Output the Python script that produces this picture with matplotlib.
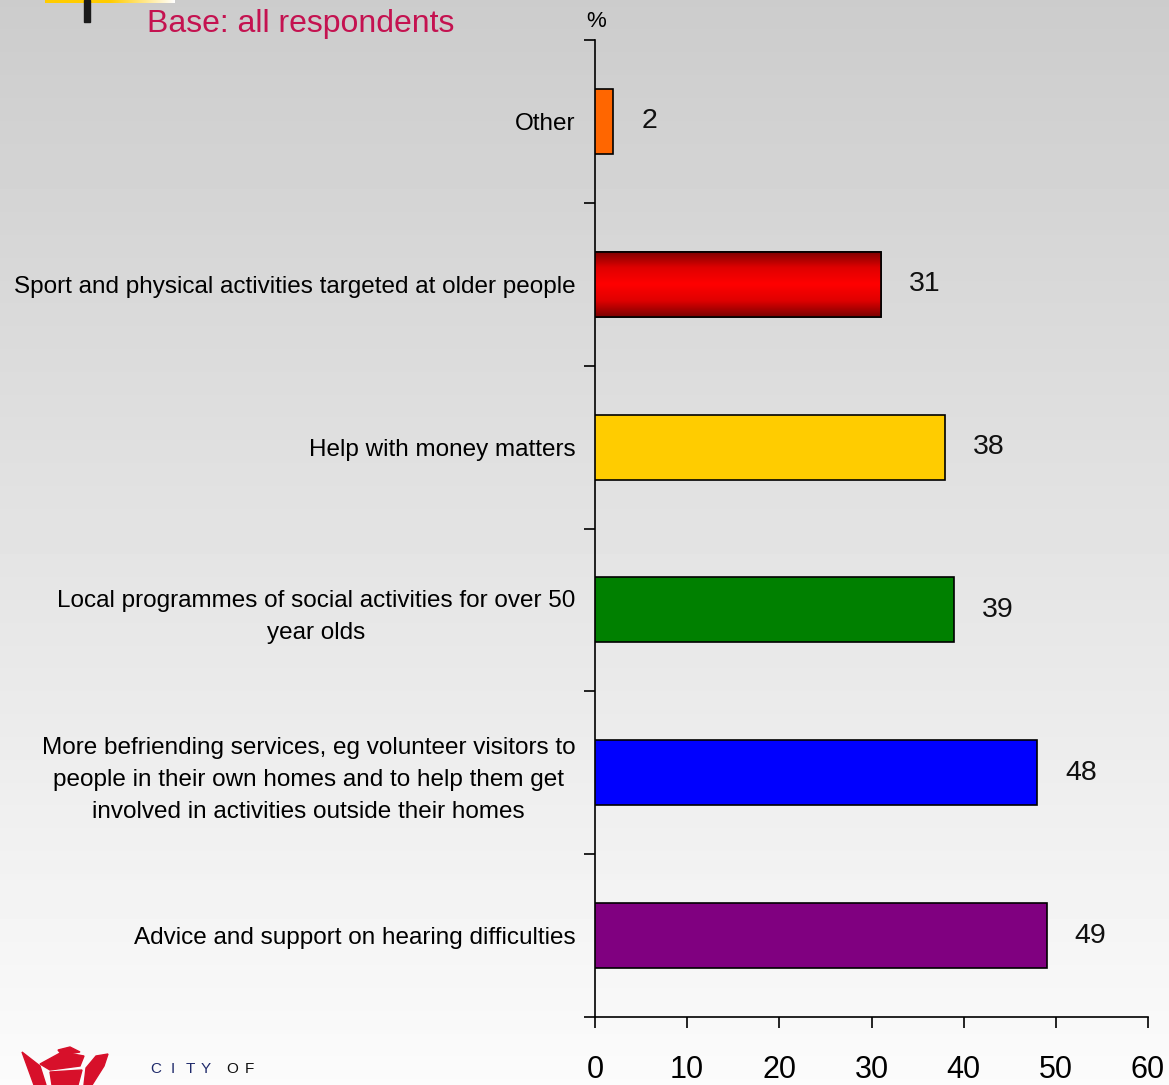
import numpy as np
import matplotlib
matplotlib.use("Agg")
import matplotlib.pyplot as plt
from matplotlib.colors import LinearSegmentedColormap
from matplotlib.patches import Rectangle, Polygon

plt.rcParams['font.family'] = ['Liberation Sans', 'DejaVu Sans']

# Survey results (percent of all respondents), listed top to bottom
categories = [
    "Other",
    "Sport and physical activities targeted at older people",
    "Help with money matters",
    "Local programmes of social activities for over 50\nyear olds",
    "More befriending services, eg volunteer visitors to\npeople in their own homes and to help them get\ninvolved in activities outside their homes",
    "Advice and support on hearing difficulties",
]
values = [2, 31, 38, 39, 48, 49]
bar_colors = ["#FF6600", "#FF0000", "#FFCC00", "#008000", "#0000FF", "#800080"]
x_ticks = [0, 10, 20, 30, 40, 50, 60]

W, H = 1169, 1085
fig = plt.figure(figsize=(W / 100, H / 100), dpi=100)

# Soft grey-to-white page background
bg = fig.add_axes([0, 0, 1, 1], zorder=-10)
grad = np.linspace(0.80, 0.985, 256).reshape(-1, 1)
bg.imshow(grad, aspect="auto", cmap="gray", vmin=0, vmax=1,
          extent=[0, W, H, 0], interpolation="bicubic")

# Header decoration: yellow strip fading to white, and a dark post
strip = np.linspace(0, 1, 256).reshape(1, -1)
ycmap = LinearSegmentedColormap.from_list("ystrip", ["#FFCC00", "#FFCC00", "#FFFFFF"])
bg.imshow(strip, aspect="auto", cmap=ycmap, extent=[45, 175, 3, 0], zorder=2)
bg.add_patch(Rectangle((84, 0), 6, 22, color="#1a1a1a", zorder=3))
bg.set_xlim(0, W)
bg.set_ylim(H, 0)
bg.axis("off")

# Footer crest (simplified) and city caption
red = "#D7102A"
bg.add_patch(Polygon([[22, 1052], [40, 1066], [46, 1085], [34, 1085]], closed=True, color=red))
bg.add_patch(Polygon([[40, 1064], [62, 1052], [84, 1056], [80, 1066], [50, 1070]], closed=True, color=red))
bg.add_patch(Polygon([[58, 1050], [70, 1047], [80, 1052], [62, 1055]], closed=True, color=red))
bg.add_patch(Polygon([[50, 1072], [82, 1070], [78, 1085], [52, 1085]], closed=True, color=red))
bg.add_patch(Polygon([[86, 1068], [96, 1056], [108, 1054], [104, 1066], [92, 1085], [84, 1085]], closed=True, color=red))
for ch, xp in zip("CITY", [150, 171, 186, 201]):
    bg.text(xp, 1069, ch, color="#1F2A6B", fontsize=11, va="center", ha="left")
for ch, xp in zip("OF", [226, 245]):
    bg.text(xp, 1069, ch, color="#111111", fontsize=11, va="center", ha="left")

fig.text(147 / W, 1 - 24 / H, "Base: all respondents", color="#C41250",
         fontsize=23, ha="left", va="center")

# Main bar chart
left, right, top, bottom = 595, 1148, 40, 1017
ax = fig.add_axes([left / W, 1 - bottom / H, (right - left) / W, (bottom - top) / H])
ax.patch.set_alpha(0)

n = len(categories)
ypos = np.arange(n)[::-1]
bar_h = 0.4
bars = ax.barh(ypos, values, height=bar_h, color=bar_colors,
               edgecolor="black", linewidth=1.2, zorder=3)

# Shaded (dark-light-dark) fill on the sport bar
shade = LinearSegmentedColormap.from_list(
    "redshade", ["#7A0000", "#E00000", "#FF0000", "#E00000", "#7A0000"])
sb = bars[1]
img = ax.imshow(np.linspace(0, 1, 256).reshape(-1, 1), aspect="auto", cmap=shade,
                extent=[0, values[1], ypos[1] - bar_h / 2, ypos[1] + bar_h / 2],
                zorder=3.5, interpolation="bicubic")
img.set_clip_path(sb)
ax.barh(ypos[1], values[1], height=bar_h, color="none",
        edgecolor="black", linewidth=1.2, zorder=4)

for y, v in zip(ypos, values):
    ax.annotate(f"{v}", xy=(v, y), xytext=(20, 0), textcoords="offset points",
                ha="left", va="center", fontsize=20.5, color="#111111")

ax.set_xlim(0, 60)
ax.set_ylim(-0.5, n - 0.5)
ax.set_xticks(x_ticks)
ax.set_xticklabels([str(t) for t in x_ticks], fontsize=22)
ax.tick_params(axis="x", length=8, width=1.2, pad=19, direction="out")

ax.set_yticks(np.arange(-0.5, n, 1.0))
ax.set_yticklabels([])
ax.tick_params(axis="y", which="major", length=8, width=1.2, direction="out")
ax.set_yticks(ypos, minor=True)
ax.set_yticklabels(categories, minor=True, fontsize=17.5, linespacing=1.58)
ax.tick_params(axis="y", which="minor", length=0, pad=14)
for lab in ax.get_yticklabels(minor=True):
    lab.set_multialignment("center")

for s in ["top", "right"]:
    ax.spines[s].set_visible(False)
ax.spines["left"].set_linewidth(1.2)
ax.spines["bottom"].set_linewidth(1.2)

ax.text(0.002, 1.008, "%", transform=ax.transAxes, fontsize=16, ha="center",
        va="bottom")

fig.savefig("out.png", dpi=100)
